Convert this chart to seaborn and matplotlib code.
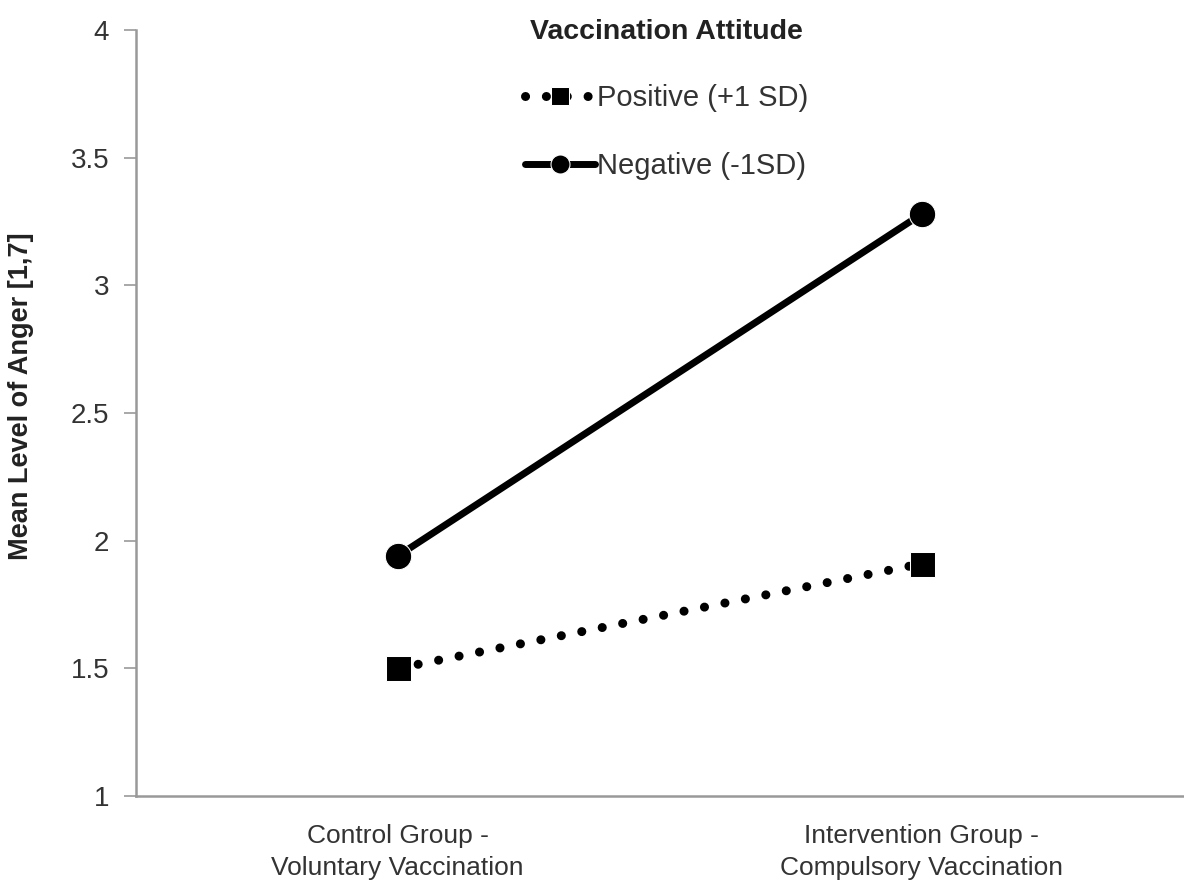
import pandas as pd
import matplotlib.pyplot as plt
import seaborn as sns

# values
groups = ['Control Group -\nVoluntary Vaccination', 'Intervention Group -\nCompulsory Vaccination']
positive = [1.50, 1.91]
negative = [1.94, 3.28]
attitudes = ['Positive (+1 SD)', 'Negative (-1SD)']

df = pd.DataFrame({
    'group': groups * 2,
    'x': [0, 1] * 2,
    'anger': positive + negative,
    'attitude': [attitudes[0]] * 2 + [attitudes[1]] * 2,
})

sns.set_style('white')
plt.rcParams['font.family'] = ['Liberation Sans', 'DejaVu Sans']

fig = plt.figure(figsize=(11.84, 8.84), dpi=100)
ax = fig.add_axes([0.1145, 0.0995, 0.8855, 0.8665])

sns.lineplot(data=df, x='x', y='anger', hue='attitude', style='attitude',
             palette=['black', 'black'], markers={attitudes[0]: 's', attitudes[1]: 'o'},
             dashes={attitudes[0]: (0.01, 2.3), attitudes[1]: ''},
             markersize=18, linewidth=5.5, dash_capstyle='round',
             legend=False, ax=ax)

# tweak each line after plotting
pos_line, neg_line = ax.lines[0], ax.lines[1]
pos_line.set_linewidth(6.5)
neg_line.set_linewidth(5)
neg_line.set_markersize(19)

ax.set_xlim(-0.5, 1.48)
ax.set_ylim(1, 4)
ax.set_yticks([1, 1.5, 2, 2.5, 3, 3.5, 4])
ax.set_yticklabels(['1', '1.5', '2', '2.5', '3', '3.5', '4'])
ax.set_xticks([0, 1])
ax.set_xticklabels(groups, linespacing=1.45)
ax.set_xticks([-0.5, 0.5, 1.5], minor=True)

ax.tick_params(axis='x', which='major', length=0, pad=20, labelsize=19, colors='#333333')
ax.tick_params(axis='x', which='minor', length=7, width=1.2, color='#999999', direction='out')
ax.tick_params(axis='y', length=9, width=1.2, color='#999999', direction='out', pad=10,
               labelsize=20, labelcolor='#333333', left=True)

for side in ['top', 'right']:
    ax.spines[side].set_visible(False)
for side in ['left', 'bottom']:
    ax.spines[side].set_color('#999999')
    ax.spines[side].set_linewidth(1.8)

ax.set_xlabel('')
ax.set_ylabel('Mean Level of Anger [1,7]', fontsize=19.5, fontweight='bold', color='#222222')
ax.yaxis.set_label_coords(-0.097, 0.522)

leg = ax.legend(handles=[pos_line, neg_line], labels=attitudes,
                title='Vaccination Attitude', frameon=False, loc='upper left',
                bbox_to_anchor=(0.443, 0.978), bbox_transform=fig.transFigure,
                borderpad=0, borderaxespad=0, fontsize=21, handlelength=2.4,
                handletextpad=0.1, labelspacing=1.35, markerscale=0.72)
leg.get_title().set_fontweight('bold')
leg.get_title().set_fontsize(20.5)
leg.get_title().set_color('#222222')
leg._legend_box.sep = 28
for t in leg.get_texts():
    t.set_color('#333333')

fig.savefig('out.png', dpi=100)
